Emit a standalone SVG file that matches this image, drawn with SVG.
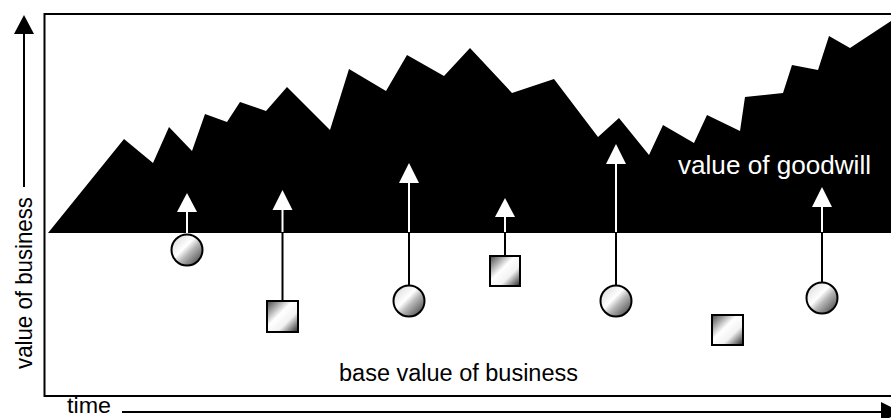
<svg xmlns="http://www.w3.org/2000/svg" width="891" height="418" viewBox="0 0 891 418">
<defs>
<linearGradient id="gCirc" x1="0" y1="0" x2="1" y2="1">
<stop offset="0" stop-color="#d2d2d2"/>
<stop offset="0.42" stop-color="#ffffff"/>
<stop offset="0.58" stop-color="#b8b8b8"/>
<stop offset="1" stop-color="#303030"/>
</linearGradient>
<linearGradient id="gSq" x1="0" y1="0" x2="1" y2="1">
<stop offset="0" stop-color="#444444"/>
<stop offset="0.42" stop-color="#ffffff"/>
<stop offset="0.66" stop-color="#f2f2f2"/>
<stop offset="1" stop-color="#222222"/>
</linearGradient>
</defs>
<style>
.lbl{font-family:"Liberation Sans",Arial,sans-serif;fill:#000}
.circ{fill:url(#gCirc);stroke:#000;stroke-width:2}
.sq{fill:url(#gSq);stroke:#000;stroke-width:2}
.blk{stroke:#000;stroke-width:2;fill:none}
.wht{stroke:#fff;stroke-width:2;fill:none}
.whd{fill:#fff}
.axis{stroke:#000;stroke-width:2;fill:none}
</style>
<rect width="891" height="418" fill="#fff"/>
<g id="frame">
<rect x="44.5" y="14" width="900" height="382" fill="none" stroke="#000" stroke-width="2"/>
</g>
<g id="goodwill">
<polygon fill="#000" points="48,233 124,139 153,163 169,127 192,151 205,114 227,122 240,102 266,111 287,87 330,130 349,69 386,91 407,55 444,76 470,48 512,93 554,79 598,137 619,118 649,155 663,125 694,143 707,115 740,131 745,97 783,93 792,65 818,70 829,36 850,48 891,21 891,233"/>
<text class="lbl" x="678" y="174" font-size="26.5" style="fill:#fff" textLength="193" lengthAdjust="spacingAndGlyphs">value of goodwill</text>
</g>
<g id="connectors">
<line class="wht" x1="187" y1="233" x2="187" y2="211"/>
<polygon class="whd" points="187,193 197,212 177,212"/>
<line class="blk" x1="282.5" y1="233" x2="282.5" y2="300"/>
<line class="wht" x1="282.5" y1="232" x2="282.5" y2="209"/>
<polygon class="whd" points="282.5,190 292.5,210 272.5,210"/>
<line class="blk" x1="409" y1="233" x2="409" y2="286"/>
<line class="wht" x1="409" y1="232" x2="409" y2="182"/>
<polygon class="whd" points="409,163 419,183 399,183"/>
<line class="blk" x1="505" y1="233" x2="505" y2="255"/>
<line class="wht" x1="505" y1="232" x2="505" y2="216"/>
<polygon class="whd" points="505,198 515,217 495,217"/>
<line class="blk" x1="616" y1="233" x2="616" y2="286"/>
<line class="wht" x1="616" y1="232" x2="616" y2="163"/>
<polygon class="whd" points="616,144 626,164 606,164"/>
<line class="blk" x1="822" y1="233" x2="822" y2="283"/>
<line class="wht" x1="822" y1="232" x2="822" y2="206"/>
<polygon class="whd" points="822,187 832,207 812,207"/>
</g>
<g id="n1"><circle class="circ" cx="187" cy="250" r="15.5"/></g>
<g id="n2"><rect class="sq" x="267" y="301" width="31" height="31"/></g>
<g id="n3"><circle class="circ" cx="409" cy="301" r="15.5"/></g>
<g id="n4"><rect class="sq" x="490" y="256" width="30" height="30"/></g>
<g id="n5"><circle class="circ" cx="616" cy="301" r="15.5"/></g>
<g id="n6"><rect class="sq" x="712" y="315" width="31" height="30"/></g>
<g id="n7"><circle class="circ" cx="822" cy="298" r="15.5"/></g>
<g id="base-label">
<text class="lbl" x="339" y="381" font-size="23.5" textLength="239" lengthAdjust="spacingAndGlyphs">base value of business</text>
</g>
<g id="y-axis">
<line class="axis" x1="24" y1="33" x2="24" y2="187"/>
<polygon points="24,15 34,34 14,34" fill="#000"/>
<text class="lbl" transform="translate(32,369) rotate(-90)" x="0" y="0" font-size="24" textLength="172" lengthAdjust="spacingAndGlyphs">value of business</text>
</g>
<g id="x-axis">
<line class="axis" x1="122" y1="412" x2="883" y2="412"/>
<polygon points="901,412 881,402 881,422" fill="#000"/>
<text class="lbl" x="67" y="413" font-size="22" textLength="44" lengthAdjust="spacingAndGlyphs">time</text>
</g>
</svg>
